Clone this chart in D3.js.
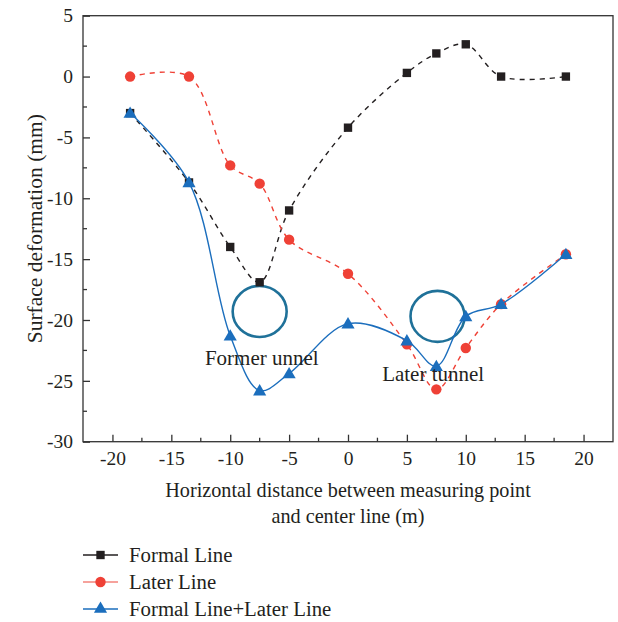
<!DOCTYPE html>
<html>
<head>
<meta charset="utf-8">
<script src="https://cdn.jsdelivr.net/npm/d3@7"></script>
<style>
  html, body { margin: 0; padding: 0; background: #fff; }
</style>
</head>
<body>
<svg id="chart" width="618" height="622"></svg>
<script>
// Measuring positions (m) relative to the tunnel centre line
const distances = [-18.5, -13.5, -10, -7.5, -5, 0, 5, 7.5, 10, 13, 18.5];

// Surface deformation (mm) for each excavation stage
const formalLine = [-3, -8.7, -14.0, -16.9, -11.0, -4.2, 0.3, 1.9, 2.65, 0, 0];
const laterLine = [0, 0, -7.3, -8.8, -13.4, -16.2, -22.0, -25.7, -22.3, -18.7, -14.6];
const combinedLine = [-3, -8.7, -21.3, -25.8, -24.4, -20.3, -21.7, -23.8, -19.7, -18.7, -14.6];

const seriesNames = ["Formal Line", "Later Line", "Formal Line+Later Line"];

// Axis ticks
const xTicks = [-20, -15, -10, -5, 0, 5, 10, 15, 20];
const yTicks = [5, 0, -5, -10, -15, -20, -25, -30];

// Tunnel outlines: centre (m, mm) and label anchor
const tunnels = [
  { x: -7.5, y: -19.3, label: "Former unnel", lx: -12.15, ly: -23.7 },
  { x: 7.6, y: -19.7, label: "Later tunnel", lx: 2.9, ly: -25.0 }
];

const FONT = '"Liberation Serif"';
const svg = d3.select("#chart");
const plot = { left: 83, right: 613, top: 15.7, bottom: 441.7 };

const x = d3.scaleLinear().domain([-22.5, 22.5]).range([plot.left, plot.right]);
const y = d3.scaleLinear().domain([-30, 5]).range([plot.bottom, plot.top]);

const axisColor = "#333";
const textColor = "#231f20";

function label(sel, size) {
  return sel.style("font-family", FONT).style("font-size", size + "px").attr("fill", textColor);
}

// Frame
svg.append("rect")
  .attr("x", plot.left).attr("y", plot.top)
  .attr("width", plot.right - plot.left).attr("height", plot.bottom - plot.top)
  .attr("fill", "none").attr("stroke", axisColor).attr("stroke-width", 1.3);

// Minor ticks (inward)
const xMinor = d3.range(-22.5, 22.51, 2.5).filter(v => v > -22.5 && v < 22.5 && !xTicks.includes(v));
const yMinor = d3.range(-27.5, 5, 5);

const fmt = d => d < 0 ? "-" + Math.abs(d) : String(d);

const xAxis = svg.append("g").attr("transform", `translate(0,${plot.bottom})`)
  .call(d3.axisBottom(x).tickValues(xTicks).tickSizeInner(-7).tickSizeOuter(0).tickPadding(9.5).tickFormat(fmt));
xAxis.select(".domain").remove();
xAxis.selectAll(".tick line").attr("stroke", axisColor).attr("stroke-width", 1.3);
label(xAxis.selectAll(".tick text"), 19.5);
svg.append("g").selectAll("line").data(xMinor).join("line")
  .attr("x1", d => x(d)).attr("x2", d => x(d))
  .attr("y1", plot.bottom).attr("y2", plot.bottom - 4)
  .attr("stroke", axisColor).attr("stroke-width", 1.3);

const yAxis = svg.append("g").attr("transform", `translate(${plot.left},0)`)
  .call(d3.axisLeft(y).tickValues(yTicks).tickSizeInner(-7).tickSizeOuter(0).tickPadding(10).tickFormat(fmt));
yAxis.select(".domain").remove();
yAxis.selectAll(".tick line").attr("stroke", axisColor).attr("stroke-width", 1.3);
label(yAxis.selectAll(".tick text"), 19.5);
svg.append("g").selectAll("line").data(yMinor).join("line")
  .attr("x1", plot.left).attr("x2", plot.left + 4)
  .attr("y1", d => y(d)).attr("y2", d => y(d))
  .attr("stroke", axisColor).attr("stroke-width", 1.3);

// Axis titles
label(svg.append("text"), 20.2)
  .attr("x", (plot.left + plot.right) / 2).attr("y", 497)
  .attr("text-anchor", "middle")
  .text("Horizontal distance between measuring point");
label(svg.append("text"), 20.2)
  .attr("x", (plot.left + plot.right) / 2).attr("y", 523)
  .attr("text-anchor", "middle")
  .text("and center line (m)");
label(svg.append("text"), 21.5)
  .attr("transform", `translate(42,${(plot.top + plot.bottom) / 2}) rotate(-90)`)
  .attr("text-anchor", "middle")
  .text("Surface deformation (mm)");

// Series
const series = [
  { name: seriesNames[0], values: formalLine, color: "#231f20", lineColor: "#231f20", dash: "5,5", marker: d3.symbolSquare, size: 70 },
  { name: seriesNames[1], values: laterLine, color: "#ef4136", lineColor: "#ef4136", dash: "5,5", marker: d3.symbolCircle, size: 85 },
  { name: seriesNames[2], values: combinedLine, color: "#1b6ebd", lineColor: "#1b6ebd", dash: null, marker: d3.symbolTriangle, size: 75 }
];

const line = d3.line()
  .x(d => x(d[0])).y(d => y(d[1]))
  .curve(d3.curveCatmullRom.alpha(0.5));

// Tunnel outlines sit beneath the curves
const tunnelG = svg.append("g");
tunnels.forEach(t => {
  tunnelG.append("ellipse")
    .attr("cx", x(t.x)).attr("cy", y(t.y))
    .attr("rx", 27).attr("ry", 25.5)
    .attr("fill", "none").attr("stroke", "#1f7199").attr("stroke-width", 2.6);
});

series.forEach(s => {
  const pts = distances.map((d, i) => [d, s.values[i]]);
  const g = svg.append("g");
  g.append("path").datum(pts)
    .attr("d", line)
    .attr("fill", "none").attr("stroke", s.lineColor).attr("stroke-width", 1.4)
    .attr("stroke-dasharray", s.dash);
  g.selectAll("path.pt").data(pts).join("path")
    .attr("class", "pt")
    .attr("transform", d => `translate(${x(d[0])},${y(d[1]) + (s.marker === d3.symbolTriangle ? 1 : 0)})`)
    .attr("d", d3.symbol().type(s.marker).size(s.size))
    .attr("fill", s.color);
});

// Tunnel labels
tunnels.forEach(t => {
  label(svg.append("text"), 21)
    .attr("x", x(t.lx)).attr("y", y(t.ly))
    .text(t.label);
});

// Legend
const legend = svg.append("g");
const legendRows = [555, 582, 609];
series.forEach((s, i) => {
  const row = legend.append("g").attr("transform", `translate(0,${legendRows[i]})`);
  row.append("line").attr("x1", 83).attr("x2", 118).attr("y1", 0).attr("y2", 0)
    .attr("stroke", i === 1 ? "#f3837b" : s.lineColor).attr("stroke-width", 1.6);
  row.append("path")
    .attr("transform", "translate(100.5,0)")
    .attr("d", d3.symbol().type(s.marker).size(s.size)).attr("fill", s.color);
  label(row.append("text"), 20.8).attr("x", 129).attr("y", 6.5).text(s.name);
});
</script>
</body>
</html>
